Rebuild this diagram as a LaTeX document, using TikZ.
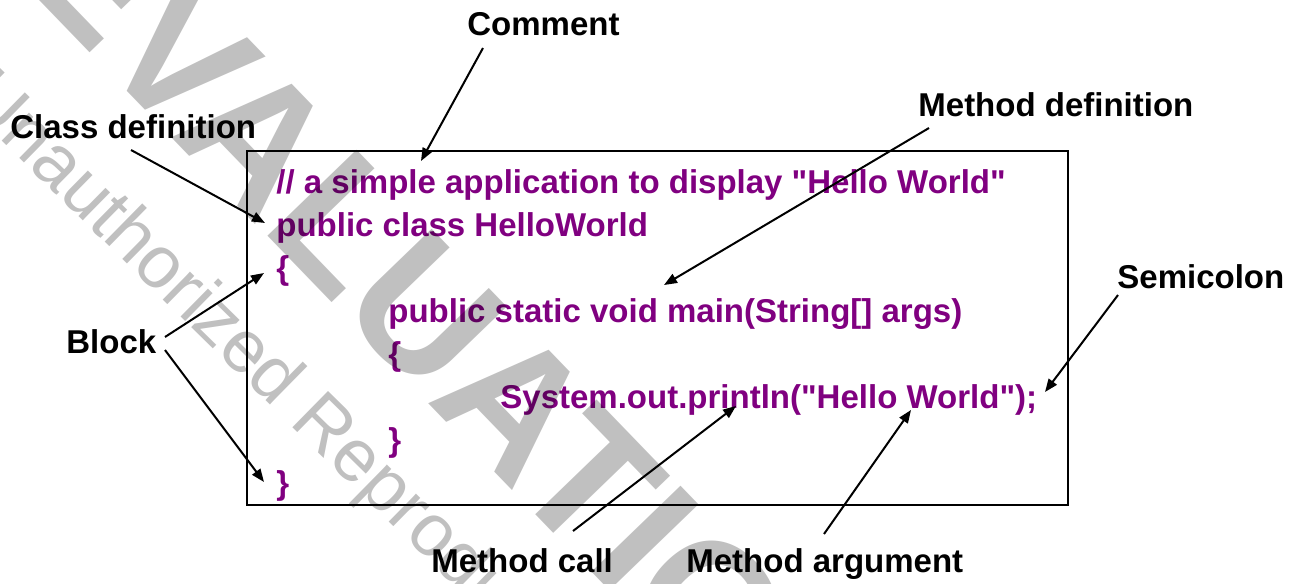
\documentclass[tikz,border=0pt]{standalone}
\usepackage{fontspec}
\setmainfont{Liberation Sans}[Ligatures=TeXOff]
\usetikzlibrary{arrows.meta}
\definecolor{codepurple}{RGB}{128,0,128}
\definecolor{wmgray}{RGB}{192,192,192}

\begin{document}
\begin{tikzpicture}[x=0.5pt,y=-0.5pt,
  lbl/.style={anchor=base west, inner sep=0pt, font=\fontsize{16.5}{20}\selectfont\bfseries},
  code/.style={lbl, text=codepurple},
  pointer/.style={line width=1pt, -{Triangle[length=6.5pt,width=5pt]}},
  wm/.style={anchor=base west, inner sep=0pt, text=wmgray}]
\useasboundingbox (0,0) rectangle (1294,583);

% code frame
\node[draw, line width=0.8pt, inner sep=0pt, minimum width=410.5pt, minimum height=177pt] (box) at (657.5,328) {};

% source lines
\node[code] (l1) at (276,193) {// a simple application to display "Hello World"};
\node[code] (l2) at (276,236) {public class HelloWorld};
\node[code] (l3) at (276,279) {\{};
\node[code] (l4) at (388,322) {public static void main(String[] args)};
\node[code] (l5) at (388,365) {\{};
\node[code] (l6) at (500,408) {System.out.println("Hello World");};
\node[code] (l7) at (388,451) {\}};
\node[code] (l8) at (276,494) {\}};

% callout labels
\node[lbl] (cmt) at (467,36) {Comment};
\node[lbl] (cls) at (10,138) {Class definition};
\node[lbl] (mdef) at (918,117) {Method definition};
\node[lbl] (semi) at (1117,288) {Semicolon};
\node[lbl] (blk) at (66,353) {Block};
\node[lbl] (mcall) at (431,572) {Method call};
\node[lbl] (marg) at (686,572) {Method argument};

% pointer ends
\coordinate (cmt-s) at (483,48);   \coordinate (cmt-e) at (421,161);
\coordinate (cls-s) at (131,150);  \coordinate (cls-e) at (265,223);
\coordinate (mdef-s) at (929,128); \coordinate (mdef-e) at (664,285);
\coordinate (blk-s1) at (165,337); \coordinate (blk-e1) at (264,273);
\coordinate (blk-s2) at (165,350); \coordinate (blk-e2) at (264,482);
\coordinate (semi-s) at (1118,295); \coordinate (semi-e) at (1045,392);
\coordinate (mcall-s) at (573,531); \coordinate (mcall-e) at (736,406);
\coordinate (marg-s) at (824,534);  \coordinate (marg-e) at (911,410);

\draw[pointer] (cmt-s) -- (cmt-e);
\draw[pointer] (cls-s) -- (cls-e);
\draw[pointer] (mdef-s) -- (mdef-e);
\draw[pointer] (blk-s1) -- (blk-e1);
\draw[pointer] (blk-s2) -- (blk-e2);
\draw[pointer] (semi-s) -- (semi-e);
\draw[pointer] (mcall-s) -- (mcall-e);
\draw[pointer] (marg-s) -- (marg-e);

% stamp, multiplied over the drawing
\begin{scope}[blend mode=multiply]
  \clip (0,0) rectangle (1294,583);
  \node[wm, rotate=-46, font=\fontsize{90}{90}\selectfont\bfseries] (stamp1) at (11,-29) {EVALUATION};
  \node[wm, rotate=-44.5, font=\fontsize{37}{37}\selectfont] (stamp2) at (-40,100) {Unauthorized Reproduction};
\end{scope}
\end{tikzpicture}
\end{document}
